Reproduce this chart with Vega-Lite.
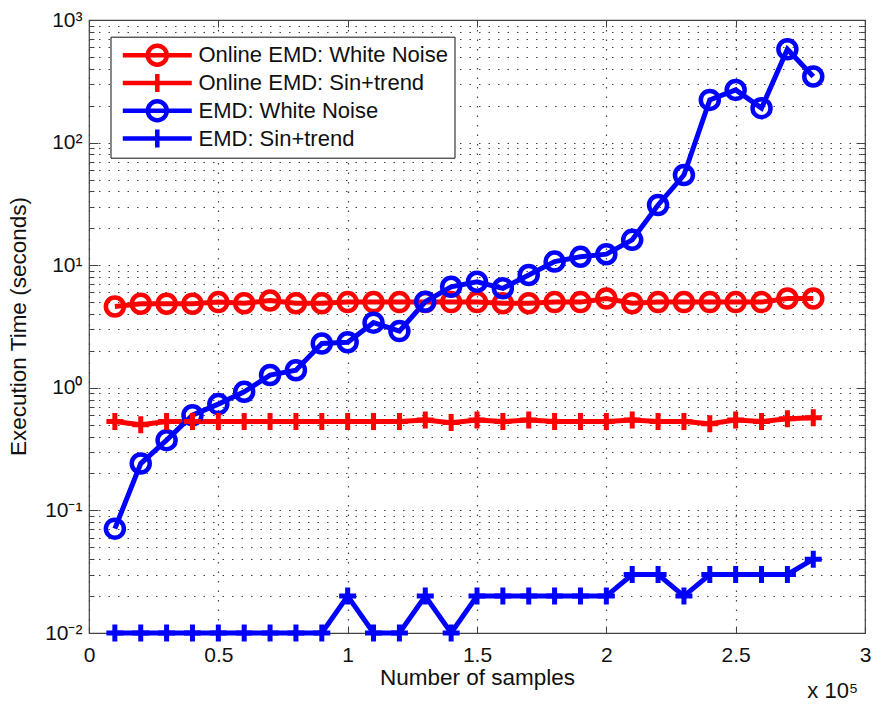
{
  "$schema": "https://vega.github.io/schema/vega-lite/v6.json",
  "width": 776,
  "height": 613,
  "autosize": {"type": "none"},
  "padding": {"left": 89, "top": 20, "right": 10, "bottom": 71},
  "background": "white",
  "config": {
    "font": "Liberation Sans",
    "view": {"stroke": "#444", "strokeWidth": 1.2},
    "axis": {
      "labelFont": "Liberation Sans", "labelFontSize": 21, "labelColor": "#111",
      "titleFont": "Liberation Sans", "titleFontSize": 22.5, "titleFontWeight": "normal", "titleColor": "#111",
      "domain": false, "gridColor": "#444", "gridDash": [1.5, 8], "gridWidth": 1.2,
      "tickColor": "#444", "tickWidth": 1, "labelOverlap": false, "labelBound": false, "labelFlush": false
    }
  },
  "data": {"values": [
    {"s":"Online EMD: White Noise","n":10000,"t":4.6},{"s":"Online EMD: White Noise","n":20000,"t":4.85},{"s":"Online EMD: White Noise","n":30000,"t":4.85},{"s":"Online EMD: White Noise","n":40000,"t":4.85},{"s":"Online EMD: White Noise","n":50000,"t":5.0},{"s":"Online EMD: White Noise","n":60000,"t":4.9},{"s":"Online EMD: White Noise","n":70000,"t":5.15},{"s":"Online EMD: White Noise","n":80000,"t":4.9},{"s":"Online EMD: White Noise","n":90000,"t":4.9},{"s":"Online EMD: White Noise","n":100000,"t":5.0},{"s":"Online EMD: White Noise","n":110000,"t":5.0},{"s":"Online EMD: White Noise","n":120000,"t":5.0},{"s":"Online EMD: White Noise","n":130000,"t":5.0},{"s":"Online EMD: White Noise","n":140000,"t":5.0},{"s":"Online EMD: White Noise","n":150000,"t":5.0},{"s":"Online EMD: White Noise","n":160000,"t":4.9},{"s":"Online EMD: White Noise","n":170000,"t":4.9},{"s":"Online EMD: White Noise","n":180000,"t":5.0},{"s":"Online EMD: White Noise","n":190000,"t":5.0},{"s":"Online EMD: White Noise","n":200000,"t":5.35},{"s":"Online EMD: White Noise","n":210000,"t":4.9},{"s":"Online EMD: White Noise","n":220000,"t":5.0},{"s":"Online EMD: White Noise","n":230000,"t":5.0},{"s":"Online EMD: White Noise","n":240000,"t":5.0},{"s":"Online EMD: White Noise","n":250000,"t":5.0},{"s":"Online EMD: White Noise","n":260000,"t":5.0},{"s":"Online EMD: White Noise","n":270000,"t":5.35},{"s":"Online EMD: White Noise","n":280000,"t":5.35},
    {"s":"Online EMD: Sin+trend","n":10000,"t":0.53},{"s":"Online EMD: Sin+trend","n":20000,"t":0.5},{"s":"Online EMD: Sin+trend","n":30000,"t":0.53},{"s":"Online EMD: Sin+trend","n":40000,"t":0.53},{"s":"Online EMD: Sin+trend","n":50000,"t":0.53},{"s":"Online EMD: Sin+trend","n":60000,"t":0.53},{"s":"Online EMD: Sin+trend","n":70000,"t":0.53},{"s":"Online EMD: Sin+trend","n":80000,"t":0.53},{"s":"Online EMD: Sin+trend","n":90000,"t":0.53},{"s":"Online EMD: Sin+trend","n":100000,"t":0.53},{"s":"Online EMD: Sin+trend","n":110000,"t":0.53},{"s":"Online EMD: Sin+trend","n":120000,"t":0.53},{"s":"Online EMD: Sin+trend","n":130000,"t":0.545},{"s":"Online EMD: Sin+trend","n":140000,"t":0.52},{"s":"Online EMD: Sin+trend","n":150000,"t":0.545},{"s":"Online EMD: Sin+trend","n":160000,"t":0.53},{"s":"Online EMD: Sin+trend","n":170000,"t":0.545},{"s":"Online EMD: Sin+trend","n":180000,"t":0.53},{"s":"Online EMD: Sin+trend","n":190000,"t":0.53},{"s":"Online EMD: Sin+trend","n":200000,"t":0.53},{"s":"Online EMD: Sin+trend","n":210000,"t":0.545},{"s":"Online EMD: Sin+trend","n":220000,"t":0.53},{"s":"Online EMD: Sin+trend","n":230000,"t":0.53},{"s":"Online EMD: Sin+trend","n":240000,"t":0.51},{"s":"Online EMD: Sin+trend","n":250000,"t":0.545},{"s":"Online EMD: Sin+trend","n":260000,"t":0.53},{"s":"Online EMD: Sin+trend","n":270000,"t":0.56},{"s":"Online EMD: Sin+trend","n":280000,"t":0.57},
    {"s":"EMD: White Noise","n":10000,"t":0.071},{"s":"EMD: White Noise","n":20000,"t":0.241},{"s":"EMD: White Noise","n":30000,"t":0.374},{"s":"EMD: White Noise","n":40000,"t":0.598},{"s":"EMD: White Noise","n":50000,"t":0.736},{"s":"EMD: White Noise","n":60000,"t":0.927},{"s":"EMD: White Noise","n":70000,"t":1.27},{"s":"EMD: White Noise","n":80000,"t":1.39},{"s":"EMD: White Noise","n":90000,"t":2.3},{"s":"EMD: White Noise","n":100000,"t":2.35},{"s":"EMD: White Noise","n":110000,"t":3.4},{"s":"EMD: White Noise","n":120000,"t":2.9},{"s":"EMD: White Noise","n":130000,"t":5.03},{"s":"EMD: White Noise","n":140000,"t":6.67},{"s":"EMD: White Noise","n":150000,"t":7.33},{"s":"EMD: White Noise","n":160000,"t":6.48},{"s":"EMD: White Noise","n":170000,"t":8.32},{"s":"EMD: White Noise","n":180000,"t":10.7},{"s":"EMD: White Noise","n":190000,"t":11.7},{"s":"EMD: White Noise","n":200000,"t":12.3},{"s":"EMD: White Noise","n":210000,"t":16.1},{"s":"EMD: White Noise","n":220000,"t":31.0},{"s":"EMD: White Noise","n":230000,"t":54.4},{"s":"EMD: White Noise","n":240000,"t":223},{"s":"EMD: White Noise","n":250000,"t":269},{"s":"EMD: White Noise","n":260000,"t":191},{"s":"EMD: White Noise","n":270000,"t":578},{"s":"EMD: White Noise","n":280000,"t":346},
    {"s":"EMD: Sin+trend","n":10000,"t":0.01},{"s":"EMD: Sin+trend","n":20000,"t":0.01},{"s":"EMD: Sin+trend","n":30000,"t":0.01},{"s":"EMD: Sin+trend","n":40000,"t":0.01},{"s":"EMD: Sin+trend","n":50000,"t":0.01},{"s":"EMD: Sin+trend","n":60000,"t":0.01},{"s":"EMD: Sin+trend","n":70000,"t":0.01},{"s":"EMD: Sin+trend","n":80000,"t":0.01},{"s":"EMD: Sin+trend","n":90000,"t":0.01},{"s":"EMD: Sin+trend","n":100000,"t":0.02},{"s":"EMD: Sin+trend","n":110000,"t":0.01},{"s":"EMD: Sin+trend","n":120000,"t":0.01},{"s":"EMD: Sin+trend","n":130000,"t":0.02},{"s":"EMD: Sin+trend","n":140000,"t":0.01},{"s":"EMD: Sin+trend","n":150000,"t":0.02},{"s":"EMD: Sin+trend","n":160000,"t":0.02},{"s":"EMD: Sin+trend","n":170000,"t":0.02},{"s":"EMD: Sin+trend","n":180000,"t":0.02},{"s":"EMD: Sin+trend","n":190000,"t":0.02},{"s":"EMD: Sin+trend","n":200000,"t":0.02},{"s":"EMD: Sin+trend","n":210000,"t":0.03},{"s":"EMD: Sin+trend","n":220000,"t":0.03},{"s":"EMD: Sin+trend","n":230000,"t":0.02},{"s":"EMD: Sin+trend","n":240000,"t":0.03},{"s":"EMD: Sin+trend","n":250000,"t":0.03},{"s":"EMD: Sin+trend","n":260000,"t":0.03},{"s":"EMD: Sin+trend","n":270000,"t":0.03},{"s":"EMD: Sin+trend","n":280000,"t":0.04}
  ]},
  "layer": [
    {
      "mark": {"type": "line", "strokeWidth": 5},
      "encoding": {
        "x": {"field": "n", "type": "quantitative",
          "scale": {"domain": [0, 300000], "nice": false, "zero": false},
          "axis": {"values": [0, 50000, 100000, 150000, 200000, 250000, 300000],
            "labelExpr": "'' + datum.value / 100000", "title": "Number of samples",
            "tickSize": -7, "labelPadding": 18, "titleY": 51, "titleBaseline": "alphabetic"}},
        "y": {"field": "t", "type": "quantitative",
          "scale": {"type": "log", "domain": [0.01, 1000], "nice": false},
          "axis": {"values": [0.01,0.02,0.03,0.04,0.05,0.06,0.07,0.08,0.09,0.1,0.2,0.3,0.4,0.5,0.6,0.7,0.8,0.9,1,2,3,4,5,6,7,8,9,10,20,30,40,50,60,70,80,90,100,200,300,400,500,600,700,800,900,1000],
            "labelExpr": "datum.value == 0.01 ? '10⁻²' : datum.value == 0.1 ? '10⁻¹' : datum.value == 1 ? '10⁰' : datum.value == 10 ? '10¹' : datum.value == 100 ? '10²' : datum.value == 1000 ? '10³' : ''",
            "tickSize": {"condition": {"test": "indexof([0.01,0.1,1,10,100,1000], datum.value) >= 0", "value": -9}, "value": -5},
            "labelPadding": 16,
            "title": "Execution Time (seconds)", "titleX": -71, "titleY": 306, "titleBaseline": "middle"}},
        "color": {"field": "s", "type": "nominal",
          "scale": {"domain": ["Online EMD: White Noise", "Online EMD: Sin+trend", "EMD: White Noise", "EMD: Sin+trend"],
            "range": ["#ff0000", "#ff0000", "#0000ff", "#0000ff"]},
          "legend": {"orient": "none", "legendX": 21.5, "legendY": 16.7, "title": null,
            "fillColor": "white", "strokeColor": "#111", "cornerRadius": 0,
            "padding": 6, "rowPadding": 2.8, "clipHeight": 25, "labelFontSize": 22, "labelFont": "Liberation Sans", "labelColor": "#111",
            "labelLimit": 500, "labelOffset": 57, "symbolSize": 400, "symbolStrokeWidth": 4.5,
            "symbolType": "M-0.62,0H6.28M2.83,-0.9V0.9",
            "encode": {"symbols": {"update": {
              "shape": {"signal": "indexof(datum.value, 'White') >= 0 ? 'M-0.62,0H6.28M1.88,0A0.95,0.95 0 1,1 3.78,0A0.95,0.95 0 1,1 1.88,0' : 'M-0.62,0H6.28M2.83,-0.9V0.9'"},
              "fill": {"value": "transparent"}, "strokeWidth": {"value": 4.5}, "opacity": {"value": 1}}}}}
        }
      }
    },
    {
      "transform": [{"filter": "indexof(datum.s, 'White') >= 0"}],
      "mark": {"type": "point", "shape": "circle", "filled": false, "strokeWidth": 4.5, "size": 324, "opacity": 1},
      "encoding": {
        "x": {"field": "n", "type": "quantitative",
          "axis": {"orient": "top", "values": [0, 50000, 100000, 150000, 200000, 250000, 300000], "labels": false, "title": null, "grid": false, "tickSize": -7}},
        "y": {"field": "t", "type": "quantitative",
          "axis": {"orient": "right", "values": [0.01,0.02,0.03,0.04,0.05,0.06,0.07,0.08,0.09,0.1,0.2,0.3,0.4,0.5,0.6,0.7,0.8,0.9,1,2,3,4,5,6,7,8,9,10,20,30,40,50,60,70,80,90,100,200,300,400,500,600,700,800,900,1000],
            "labels": false, "title": null, "grid": false,
            "tickSize": {"condition": {"test": "indexof([0.01,0.1,1,10,100,1000], datum.value) >= 0", "value": -9}, "value": -5}}},
        "color": {"field": "s", "type": "nominal", "legend": null}
      }
    },
    {
      "transform": [{"filter": "indexof(datum.s, 'White') < 0"}],
      "mark": {"type": "point", "shape": "M-1,0H1M0,-1V1", "filled": false, "strokeWidth": 5, "size": 289, "opacity": 1},
      "encoding": {
        "x": {"field": "n", "type": "quantitative", "axis": null},
        "y": {"field": "t", "type": "quantitative", "axis": null},
        "color": {"field": "s", "type": "nominal", "legend": null}
      }
    },
    {
      "data": {"values": [{}]},
      "mark": {"type": "text", "align": "right", "baseline": "alphabetic", "fontSize": 22, "font": "Liberation Sans", "color": "#111"},
      "encoding": {
        "x": {"datum": 297300, "type": "quantitative", "axis": null},
        "y": {"datum": 0.00293, "type": "quantitative", "axis": null},
        "text": {"value": "x 10⁵"}
      }
    }
  ],
  "resolve": {"axis": {"x": "independent", "y": "independent"}}
}
